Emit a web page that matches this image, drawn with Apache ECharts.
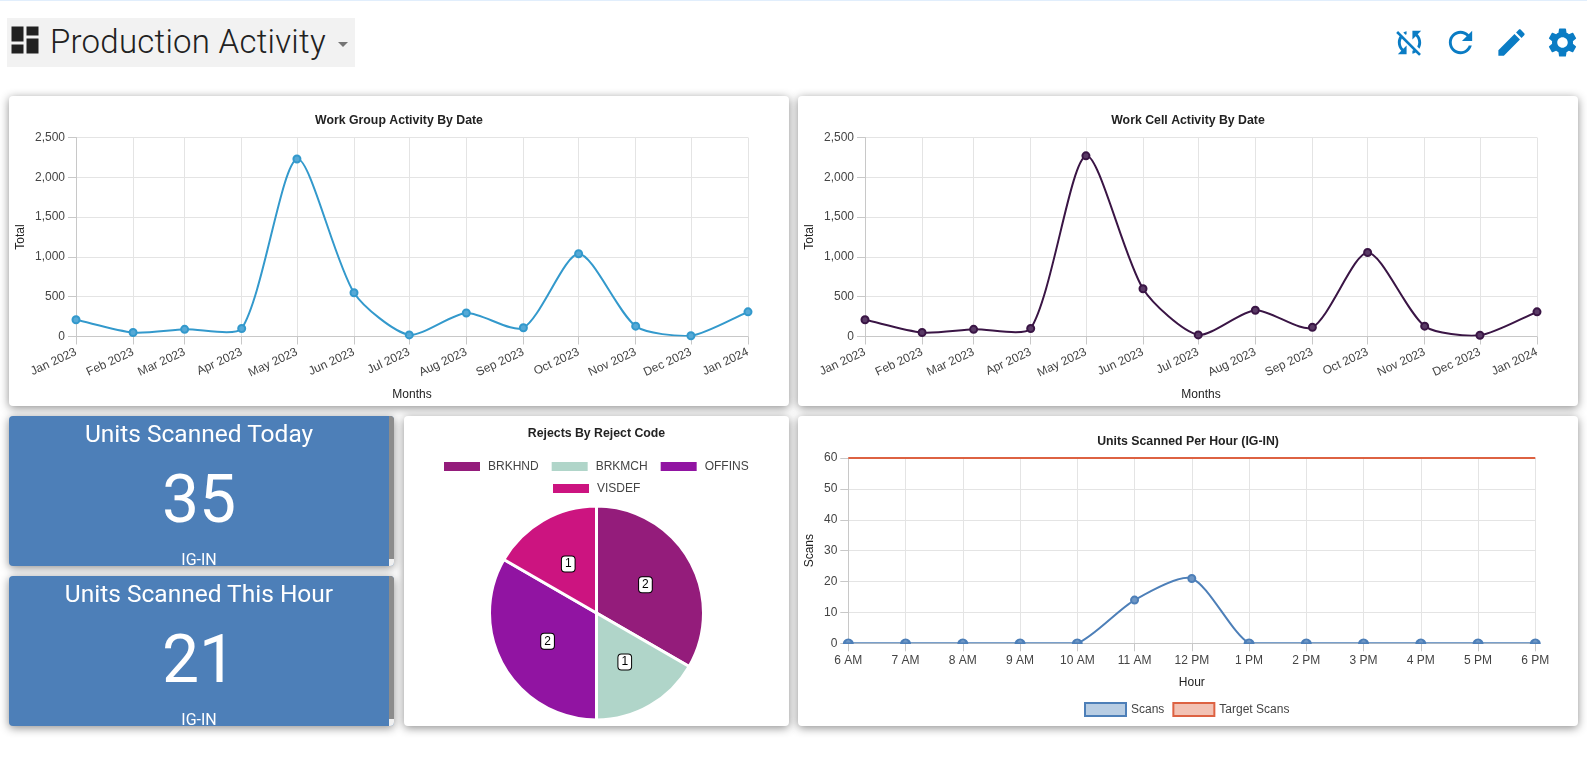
<!DOCTYPE html>
<html>
<head>
<meta charset="utf-8">
<title>Production Activity</title>
<script src="https://cdn.jsdelivr.net/npm/echarts@6/dist/echarts.min.js"></script>
<style>
  html, body {margin: 0; height: 100%; background: #fff; overflow: hidden;}
  body {position: relative; width: 1587px; height: 761px; font-family: Roboto, sans-serif; color: #212121;}
  .topline {position: absolute; left: 0; top: 0; width: 100%; height: 1px; background: #e1eefc;}
  .picker {position: absolute; left: 7px; top: 18px; width: 348px; height: 49px; background: #f2f2f2;}
  .picker svg {position: absolute; left: 0; top: 4px; width: 36px; height: 36px; fill: #212121;}
  .picker .name {position: absolute; left: 43px; top: 0; line-height: 47px; font-size: 33px; font-weight: 300; letter-spacing: .25px; white-space: nowrap;}
  .picker .caret {position: absolute; left: 331px; top: 24px; width: 0; height: 0; border: 5px solid transparent; border-top-color: #757575; border-bottom: 0;}
  .icon {position: absolute; top: 25px; width: 35px; height: 35px; fill: #0a7cc4;}
  .card {position: absolute; background: #fff; border-radius: 4px; box-shadow: 0 2px 10px rgba(0,0,0,.45);}
  .tile {position: absolute; left: 9px; width: 385px; height: 150px; background: #4d7fb8; border-radius: 4px; color: #fff; text-align: center; overflow: hidden; box-shadow: 0 2px 10px rgba(0,0,0,.45);}
  .tile div {position: absolute; left: 0; width: 380px; white-space: nowrap;}
  .tile .head {top: 2px; font-size: 24.5px; line-height: 32px;}
  .tile .num {top: 44px; font-size: 66px; line-height: 80px;}
  .tile .sub {top: 134px; font-size: 16px; line-height: 20px;}
  .tile .bar {left: 380px; top: 0; width: 5px; height: 143px; background: #8c8c8c;}
  .tile .end {left: 380px; top: 143px; width: 5px; height: 7px; background: #f1f1f1;}
</style>
</head>
<body>
<div class="topline"></div>
<div class="picker">
  <svg viewBox="0 0 24 24"><path d="M3 13h8V3H3v10zm0 8h8v-6H3v6zm10 0h8V11h-8v10zm0-18v6h8V3h-8z"/></svg>
  <span class="name">Production Activity</span>
  <span class="caret"></span>
</div>
<svg class="icon" style="left:1392px" viewBox="0 0 24 24"><path d="M10 6.35V4.26c-.8.21-1.55.54-2.23.96l1.46 1.46c.25-.12.5-.24.77-.33zm-7.14-.94l2.36 2.36C4.45 8.99 4 10.44 4 12c0 2.21.91 4.2 2.36 5.64L4 20h6v-6l-2.24 2.24C6.68 15.15 6 13.66 6 12c0-1 .25-1.94.68-2.77l8.08 8.08c-.25.13-.5.25-.77.34v2.09c.8-.21 1.55-.54 2.23-.96l2.36 2.36 1.27-1.27L4.14 4.14 2.86 5.41zM20 4h-6v6l2.24-2.24C17.32 8.85 18 10.34 18 12c0 1-.25 1.94-.68 2.77l1.46 1.46C19.55 15.01 20 13.56 20 12c0-2.21-.91-4.2-2.36-5.64L20 4z"/></svg>
<svg class="icon" style="left:1443px" viewBox="0 0 24 24"><path d="M17.65 6.35C16.2 4.9 14.21 4 12 4c-4.42 0-7.99 3.58-7.99 8s3.57 8 7.99 8c3.73 0 6.84-2.55 7.73-6h-2.08c-.82 2.33-3.04 4-5.65 4-3.31 0-6-2.69-6-6s2.69-6 6-6c1.66 0 3.14.69 4.22 1.78L13 11h7V4l-2.35 2.35z"/></svg>
<svg class="icon" style="left:1494px" viewBox="0 0 24 24"><path d="M3 17.25V21h3.75L17.81 9.94l-3.75-3.75L3 17.25zM20.71 7.04c.39-.39.39-1.02 0-1.41l-2.34-2.34c-.39-.39-1.02-.39-1.41 0l-1.83 1.83 3.75 3.75 1.83-1.83z"/></svg>
<svg class="icon" style="left:1545px" viewBox="0 0 24 24"><path d="M19.14 12.94c.04-.3.06-.61.06-.94 0-.32-.02-.64-.07-.94l2.03-1.58c.18-.14.23-.41.12-.61l-1.92-3.32c-.12-.22-.37-.29-.59-.22l-2.39.96c-.5-.38-1.03-.7-1.62-.94l-.36-2.54c-.04-.24-.24-.41-.48-.41h-3.84c-.24 0-.43.17-.47.41l-.36 2.54c-.59.24-1.13.57-1.62.94l-2.39-.96c-.22-.08-.47 0-.59.22L2.74 8.87c-.12.21-.08.47.12.61l2.03 1.58c-.05.3-.09.63-.09.94s.02.64.07.94l-2.03 1.58c-.18.14-.23.41-.12.61l1.92 3.32c.12.22.37.29.59.22l2.39-.96c.5.38 1.03.7 1.62.94l.36 2.54c.05.24.24.41.48.41h3.84c.24 0 .44-.17.47-.41l.36-2.54c.59-.24 1.13-.56 1.62-.94l2.39.96c.22.08.47 0 .59-.22l1.92-3.32c.12-.22.07-.47-.12-.61l-2.01-1.58zM12 15.6c-1.98 0-3.6-1.62-3.6-3.6s1.62-3.6 3.6-3.6 3.6 1.62 3.6 3.6-1.62 3.6-3.6 3.6z"/></svg>

<div class="card" id="groupChart" style="left:9px;top:96px;width:780px;height:310px"></div>
<div class="card" id="cellChart" style="left:798px;top:96px;width:780px;height:310px"></div>
<div class="tile" style="top:416px">
  <div class="head">Units Scanned Today</div><div class="num" id="todayNum"></div><div class="sub">IG-IN</div>
  <div class="bar"></div><div class="end"></div>
</div>
<div class="tile" style="top:576px">
  <div class="head">Units Scanned This Hour</div><div class="num" id="hourNum"></div><div class="sub">IG-IN</div>
  <div class="bar"></div><div class="end"></div>
</div>
<div class="card" id="rejectChart" style="left:404px;top:416px;width:385px;height:310px"></div>
<div class="card" id="hourChart" style="left:798px;top:416px;width:780px;height:310px"></div>

<script>
const monthDates = ['2023-01-01', '2023-02-01', '2023-03-01', '2023-04-01', '2023-05-01', '2023-06-01', '2023-07-01',
  '2023-08-01', '2023-09-01', '2023-10-01', '2023-11-01', '2023-12-01', '2024-01-01']
const monthLabels = ['Jan 2023', 'Feb 2023', 'Mar 2023', 'Apr 2023', 'May 2023', 'Jun 2023', 'Jul 2023',
  'Aug 2023', 'Sep 2023', 'Oct 2023', 'Nov 2023', 'Dec 2023', 'Jan 2024']
const workGroupTotals = [210, 50, 90, 100, 2230, 550, 20, 295, 110, 1040, 130, 10, 310]
const workCellTotals = [210, 50, 90, 100, 2270, 600, 20, 330, 115, 1055, 130, 15, 310]

const rejectCodes = ['BRKHND', 'BRKMCH', 'OFFINS', 'VISDEF']
const rejectCounts = [2, 1, 2, 1]
const rejectColors = ['#941c7b', '#b0d5c9', '#9114a2', '#cc1480']

const hourLabels = ['6 AM', '7 AM', '8 AM', '9 AM', '10 AM', '11 AM', '12 PM', '1 PM', '2 PM', '3 PM', '4 PM', '5 PM', '6 PM']
const hourScans = [0, 0, 0, 0, 0, 14, 21, 0, 0, 0, 0, 0, 0]
const hourTargets = [60, 60, 60, 60, 60, 60, 60, 60, 60, 60, 60, 60, 60]

const unitsToday = 35
const unitsThisHour = 21

const FONT = '"Liberation Sans", Arial, sans-serif'
const TEXT = '#444'
const GRID_LINE = '#e4e4e4'
const AXIS_LINE = '#c8c8c8'
const TENSION = 0.25

document.getElementById('todayNum').textContent = unitsToday
document.getElementById('hourNum').textContent = unitsThisHour

const titleOf = (text, top) => ({
  text,
  left: 'center',
  top,
  textStyle: {fontFamily: FONT, fontSize: 12.3, fontWeight: 'bold', color: '#222'}
})

const yAxisOf = (name, max, interval, nameGap) => ({
  type: 'value',
  min: 0,
  max,
  interval,
  name,
  nameGap,
  nameMoveOverlap: false,
  nameLocation: 'middle',
  nameTextStyle: {fontFamily: FONT, fontSize: 12, color: '#222'},
  axisLine: {show: true, lineStyle: {color: AXIS_LINE}},
  axisTick: {show: true, length: 8, lineStyle: {color: AXIS_LINE}},
  axisLabel: {fontFamily: FONT, fontSize: 12, color: TEXT, margin: 11,
    formatter: v => v.toLocaleString('en-US')},
  splitLine: {show: true, lineStyle: {color: GRID_LINE}}
})

// echarts flattens its smooth line at every local extreme, the source chart does not,
// so the curve goes through a custom series: tangent = neighbour to neighbour, handles kept inside the plot
const curveSeries = (pairs, color) => ({
  type: 'custom',
  silent: true,
  clip: true,
  z: 2,
  data: pairs,
  encode: {x: 0, y: 1},
  renderItem(params, api) {
    const i = params.dataIndex
    if (i === pairs.length - 1) return null
    const box = params.coordSys
    const pts = pairs.map(p => api.coord(p))
    const keep = p => [
      Math.min(Math.max(p[0], box.x), box.x + box.width),
      Math.min(Math.max(p[1], box.y), box.y + box.height)
    ]
    const handles = k => {
      const cur = pts[k]
      const prev = pts[k - 1] || cur
      const next = pts[k + 1] || cur
      const d0 = Math.hypot(cur[0] - prev[0], cur[1] - prev[1])
      const d1 = Math.hypot(next[0] - cur[0], next[1] - cur[1])
      const fa = TENSION * d0 / (d0 + d1)
      const fb = TENSION * d1 / (d0 + d1)
      return {
        before: keep([cur[0] - fa * (next[0] - prev[0]), cur[1] - fa * (next[1] - prev[1])]),
        after: keep([cur[0] + fb * (next[0] - prev[0]), cur[1] + fb * (next[1] - prev[1])])
      }
    }
    const a = handles(i).after
    const b = handles(i + 1).before
    return {
      type: 'bezierCurve',
      shape: {
        x1: pts[i][0], y1: pts[i][1],
        x2: pts[i + 1][0], y2: pts[i + 1][1],
        cpx1: a[0], cpy1: a[1],
        cpx2: b[0], cpy2: b[1]
      },
      style: {stroke: color, lineWidth: 2, fill: null}
    }
  }
})

function activityOption(title, totals, color, fill) {
  const times = monthDates.map(d => new Date(d + 'T00:00:00').getTime())
  const pairs = totals.map((v, i) => [times[i], v])
  return {
    animation: false,
    title: titleOf(title, 14),
    grid: {left: 67, top: 41.5, width: 672, height: 199, outerBoundsMode: 'none'},
    xAxis: {
      type: 'time',
      min: times[0],
      max: times[times.length - 1],
      splitNumber: 12,
      name: 'Months',
      nameLocation: 'middle',
      nameGap: 52,
      nameMoveOverlap: false,
      nameTextStyle: {fontFamily: FONT, fontSize: 12, color: '#222'},
      axisLine: {lineStyle: {color: AXIS_LINE}},
      axisTick: {show: true, length: 8, lineStyle: {color: AXIS_LINE}},
      axisLabel: {
        fontFamily: FONT, fontSize: 12, color: TEXT, rotate: 25, margin: 15, hideOverlap: false,
        showMinLabel: true, showMaxLabel: true,
        formatter: v => monthLabels[times.indexOf(v)] || ''
      },
      splitLine: {show: true, lineStyle: {color: GRID_LINE}}
    },
    yAxis: yAxisOf('Total', 2500, 500, 49),
    series: [
      curveSeries(pairs, color),
      {
        type: 'line',
        z: 3,
        data: pairs,
        symbol: 'circle',
        symbolSize: 7,
        lineStyle: {opacity: 0},
        itemStyle: {color: fill, borderColor: color, borderWidth: 2}
      }
    ]
  }
}

// points sitting on the zero line only show their top half
const HALF_DOT = 'path://M0 1A1 1 0 0 1 2 1Z'
const scanPoint = v => v === 0
  ? {value: v, symbol: HALF_DOT, symbolSize: [8, 4], symbolOffset: [0, -2]}
  : v

const rejectLegend = (items, left, top) => ({
  data: items,
  left,
  top,
  icon: 'rect',
  itemWidth: 38,
  itemHeight: 11,
  itemGap: 11,
  textStyle: {fontFamily: FONT, fontSize: 12, color: '#444', padding: [0, 0, 0, 2]}
})

const rejectOption = {
  animation: false,
  title: titleOf('Rejects By Reject Code', 7),
  legend: [rejectLegend(rejectCodes.slice(0, 3), 33, 39), rejectLegend(rejectCodes.slice(3), 142, 61)],
  series: [{
    type: 'pie',
    center: [192.5, 197],
    radius: 107,
    startAngle: 90,
    clockwise: true,
    data: rejectCodes.map((name, i) => ({name, value: rejectCounts[i], itemStyle: {color: rejectColors[i]}})),
    itemStyle: {borderColor: '#fff', borderWidth: 3},
    label: {
      position: 'inside',
      formatter: '{c}',
      fontFamily: FONT,
      fontSize: 12,
      color: '#000',
      backgroundColor: '#fff',
      borderColor: '#000',
      borderWidth: 1,
      borderRadius: 3,
      padding: [2, 3, 1, 3]
    },
    labelLine: {show: false}
  }]
}

const hourOption = {
  animation: false,
  title: titleOf('Units Scanned Per Hour (IG-IN)', 15),
  grid: {left: 50.3, top: 42, width: 687, height: 185.3, outerBoundsMode: 'none'},
  legend: {
    bottom: 4,
    left: 281,
    itemWidth: 41,
    itemHeight: 13,
    itemGap: 8,
    textStyle: {fontFamily: FONT, fontSize: 12, color: '#444'},
    data: [
      {name: 'Scans', icon: 'rect', itemStyle: {color: '#b8cde3', borderColor: '#4d7fb8', borderWidth: 2}},
      {name: 'Target Scans', icon: 'rect', itemStyle: {color: '#f2c2b4', borderColor: '#dd6242', borderWidth: 2}}
    ]
  },
  xAxis: {
    type: 'category',
    boundaryGap: false,
    data: hourLabels,
    name: 'Hour',
    nameLocation: 'middle',
    nameGap: 33,
    nameMoveOverlap: false,
    nameTextStyle: {fontFamily: FONT, fontSize: 12, color: '#222'},
    axisLine: {lineStyle: {color: AXIS_LINE}},
    axisTick: {show: true, alignWithLabel: true, length: 8, lineStyle: {color: AXIS_LINE}},
    axisLabel: {fontFamily: FONT, fontSize: 12, color: TEXT, margin: 11, interval: 0},
    splitLine: {show: true, lineStyle: {color: GRID_LINE}}
  },
  yAxis: yAxisOf('Scans', 60, 10, 33),
  series: [
    curveSeries(hourScans.map((v, i) => [i, v]), '#4d7fb8'),
    {
      name: 'Scans',
      type: 'line',
      z: 3,
      data: hourScans.map(scanPoint),
      symbol: 'circle',
      symbolSize: 7,
      lineStyle: {opacity: 0},
      itemStyle: {color: '#6f97c5', borderColor: '#4d7fb8', borderWidth: 2}
    },
    {
      name: 'Target Scans',
      type: 'line',
      data: hourTargets,
      showSymbol: false,
      symbol: 'none',
      lineStyle: {color: '#dd6242', width: 2},
      itemStyle: {color: '#dd6242'}
    }
  ]
}

echarts.init(document.getElementById('groupChart')).setOption(activityOption('Work Group Activity By Date', workGroupTotals, '#3399cc', '#56a9d6'))
echarts.init(document.getElementById('cellChart')).setOption(activityOption('Work Cell Activity By Date', workCellTotals, '#3a1545', '#5a3a66'))
echarts.init(document.getElementById('rejectChart')).setOption(rejectOption)
echarts.init(document.getElementById('hourChart')).setOption(hourOption)
</script>
</body>
</html>
